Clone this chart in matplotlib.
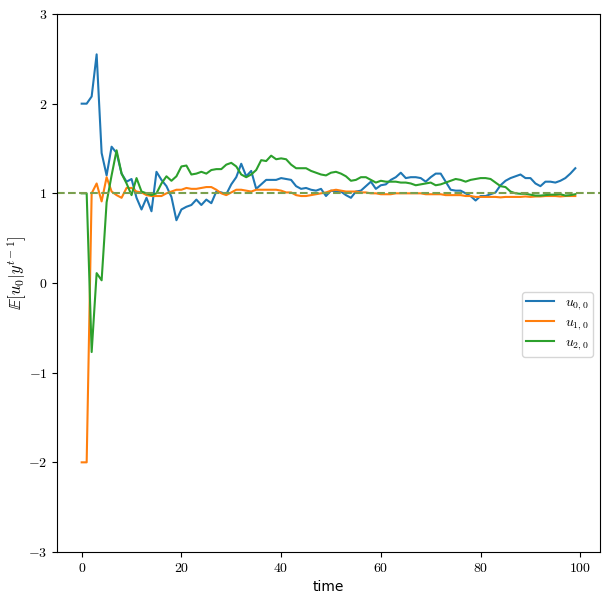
import matplotlib
matplotlib.use("Agg")
import matplotlib.pyplot as plt
import numpy as np

plt.rcParams['mathtext.fontset'] = 'cm'
plt.rcParams['font.family'] = 'serif'
plt.rcParams['font.serif'] = ['cmr10', 'DejaVu Serif']
plt.rcParams['axes.formatter.use_mathtext'] = True

time = np.arange(100)

u00 = [2.0, 2.0, 2.08, 2.55, 1.45, 1.2, 1.52, 1.45, 1.22, 1.13,
       1.16, 0.95, 0.82, 0.95, 0.80, 1.24, 1.15, 1.08, 0.96, 0.70,
       0.82, 0.85, 0.87, 0.93, 0.87, 0.93, 0.89, 1.02, 1.01, 0.99,
       1.10, 1.18, 1.33, 1.19, 1.25, 1.05, 1.10, 1.15, 1.15, 1.15,
       1.17, 1.16, 1.15, 1.08, 1.05, 1.06, 1.04, 1.03, 1.05, 0.97,
       1.03, 1.02, 1.02, 0.98, 0.95, 1.02, 1.03, 1.08, 1.13, 1.05,
       1.09, 1.10, 1.15, 1.18, 1.23, 1.17, 1.18, 1.18, 1.17, 1.13,
       1.18, 1.22, 1.22, 1.13, 1.04, 1.03, 1.03, 1.00, 0.97, 0.92,
       0.97, 0.97, 0.99, 1.01, 1.09, 1.14, 1.17, 1.19, 1.21, 1.17,
       1.17, 1.11, 1.08, 1.13, 1.13, 1.12, 1.14, 1.17, 1.22, 1.28]

u10 = [-2.0, -2.0, 1.0, 1.11, 0.91, 1.18, 1.02, 0.98, 0.95, 1.06,
       1.06, 1.02, 1.01, 0.98, 0.97, 0.97, 0.97, 1.00, 1.02, 1.04,
       1.04, 1.06, 1.05, 1.05, 1.06, 1.07, 1.07, 1.04, 1.00, 0.98,
       1.01, 1.04, 1.04, 1.03, 1.02, 1.04, 1.04, 1.04, 1.04, 1.04,
       1.03, 1.01, 1.01, 0.98, 0.97, 0.97, 0.98, 0.99, 1.00, 1.01,
       1.03, 1.04, 1.03, 1.02, 1.02, 1.02, 1.01, 1.01, 1.00, 1.00,
       0.99, 0.99, 0.99, 1.00, 1.00, 1.00, 1.00, 1.00, 1.00, 0.99,
       0.99, 0.99, 0.99, 0.98, 0.98, 0.98, 0.98, 0.97, 0.97, 0.96,
       0.96, 0.96, 0.96, 0.96, 0.955, 0.96, 0.96, 0.96, 0.96, 0.965,
       0.96, 0.965, 0.965, 0.97, 0.97, 0.97, 0.965, 0.97, 0.97, 0.97]

u20 = [1.0, 1.0, -0.77, 0.11, 0.03, 0.9, 1.2, 1.48, 1.22, 1.11,
       0.98, 1.17, 1.02, 1.00, 0.98, 1.00, 1.11, 1.19, 1.14, 1.19,
       1.30, 1.31, 1.21, 1.22, 1.24, 1.22, 1.26, 1.27, 1.27, 1.32,
       1.34, 1.30, 1.21, 1.18, 1.21, 1.26, 1.37, 1.36, 1.42, 1.38,
       1.39, 1.38, 1.32, 1.28, 1.28, 1.28, 1.25, 1.23, 1.21, 1.20,
       1.23, 1.24, 1.22, 1.19, 1.14, 1.15, 1.18, 1.18, 1.15, 1.12,
       1.14, 1.13, 1.13, 1.13, 1.12, 1.12, 1.11, 1.09, 1.10, 1.11,
       1.12, 1.09, 1.10, 1.12, 1.14, 1.16, 1.15, 1.13, 1.15, 1.16,
       1.17, 1.17, 1.16, 1.12, 1.08, 1.07, 1.02, 1.00, 0.995, 0.995,
       0.985, 0.975, 0.975, 0.98, 0.985, 0.985, 0.99, 0.975, 0.98, 0.99]

true_value = 1.0
labels = [r'$u_{0,0}$', r'$u_{1,0}$', r'$u_{2,0}$']

fig = plt.figure(figsize=(6.1, 6.03), dpi=100)
ax = fig.add_axes([57/610, 1-552/603, (600-57)/610, (552-14)/603])

for series, lab in zip([u00, u10, u20], labels):
    ax.plot(time, series, label=lab, lw=1.5)

ax.axhline(true_value, color='#7aa04f', ls='--', lw=1.5)

ax.set_ylim(-3, 3)
ax.set_yticks(range(-3, 4))
ax.set_xticks(range(0, 101, 20))
ax.set_xlabel('time', fontfamily='DejaVu Sans')
ax.set_ylabel(r'$\mathbb{E}[u_0|y^{t-1}]$', fontsize=12, va='center')
ax.yaxis.set_label_coords(-0.074, 0.52)
ax.legend(loc='center right', bbox_to_anchor=(1, 0.423), fontsize=10,
          labelspacing=0.3, borderpad=0.3)

fig.savefig('out.png', dpi=100)
